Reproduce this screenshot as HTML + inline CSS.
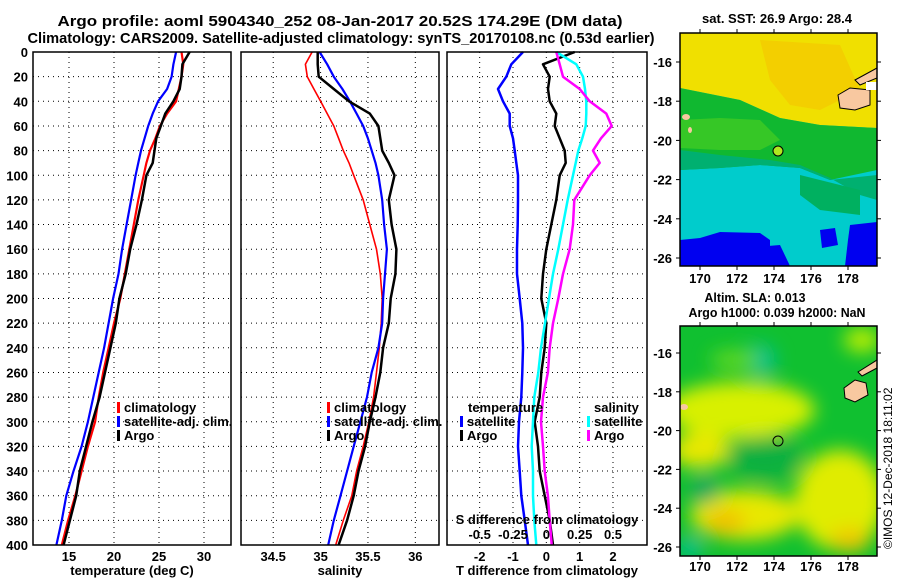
<!DOCTYPE html>
<html><head><meta charset="utf-8">
<style>
html,body{margin:0;padding:0;background:#fff;}
svg{display:block;font-family:"Liberation Sans",sans-serif;font-weight:bold;}
text{font-size:13px;fill:#000;}
</style></head>
<body>
<svg id="chart" width="900" height="580" viewBox="0 0 900 580">
<defs>
<filter id="blur1" x="-20%" y="-20%" width="140%" height="140%"><feGaussianBlur stdDeviation="9"/></filter>
<clipPath id="clipm1"><rect x="680" y="33" width="197" height="233"/></clipPath>
<clipPath id="clipm2"><rect x="680" y="326" width="197" height="230"/></clipPath>
</defs>
<text x="340" y="26" text-anchor="middle" textLength="565" lengthAdjust="spacingAndGlyphs" style="font-size:15px">Argo profile: aoml 5904340_252 08-Jan-2017 20.52S 174.29E (DM data)</text>
<text x="341" y="43" text-anchor="middle" textLength="627" lengthAdjust="spacingAndGlyphs" style="font-size:15px">Climatology: CARS2009. Satellite-adjusted climatology: synTS_20170108.nc (0.53d earlier)</text>
<g id="panels"></g>
<g id="maps">
 <g clip-path="url(#clipm1)">
  <rect x="680" y="33" width="197" height="233" fill="#00cccc"/>
  <polygon points="680,33 877,33 877,128 820,125 780,118 740,100 700,92 680,88" fill="#f0e000"/>
  <polygon points="760,40 840,45 860,90 820,110 790,105 770,80" fill="#f4c800" opacity="0.7"/>
  <polygon points="680,88 700,92 740,100 780,118 820,125 877,128 877,170 830,180 800,168 760,165 720,168 680,170" fill="#10b830"/>
  <polygon points="680,120 720,118 760,120 780,140 760,150 720,150 680,148" fill="#50d020" opacity="0.6"/>
  <polygon points="680,150 720,155 770,160 800,165 830,178 860,195 877,200 877,175 830,180 800,168 760,165 720,168 680,170" fill="#00b070"/>
  <polygon points="800,175 860,190 860,215 820,210 800,195" fill="#00b060"/>
  <polygon points="680,240 700,238 720,232 760,233 770,240 770,266 680,266" fill="#0000f0"/>
  <polygon points="720,250 780,245 790,266 720,266" fill="#0000f0"/>
  <polygon points="850,225 877,222 877,266 845,266 848,240" fill="#0000f0"/>
  <polygon points="820,230 835,228 838,245 822,248" fill="#0000f0"/>
  <polygon points="838,95 850,88 870,90 870,105 855,110 840,108" fill="#f8c8a0" stroke="#000" stroke-width="1"/>
  <polygon points="855,80 877,68 877,78 860,85" fill="#f8c8a0" stroke="#000" stroke-width="1"/>
  <rect x="866" y="82" width="11" height="8" fill="#fff"/>
  <ellipse cx="686" cy="117" rx="4" ry="3" fill="#f8c8a0"/>
  <ellipse cx="690" cy="130" rx="2" ry="3" fill="#f8c8a0"/>
  <circle cx="778" cy="151" r="5" fill="#b0e820" stroke="#000" stroke-width="1"/>
 </g>
 <rect x="680" y="33" width="197" height="233" fill="none" stroke="#000" stroke-width="1.5"/>
 <text x="777" y="23" text-anchor="middle" textLength="150" lengthAdjust="spacingAndGlyphs">sat. SST: 26.9 Argo: 28.4</text>
 <g clip-path="url(#clipm2)">
  <rect x="680" y="326" width="197" height="230" fill="#10c030"/>
  <g filter="url(#blur1)">
   <ellipse cx="740" cy="410" rx="75" ry="28" fill="#d8f000"/>
   <ellipse cx="700" cy="450" rx="30" ry="18" fill="#e8e800"/>
   <ellipse cx="745" cy="515" rx="55" ry="25" fill="#e8e800"/>
   <ellipse cx="725" cy="522" rx="20" ry="12" fill="#f0c000"/>
   <ellipse cx="840" cy="500" rx="45" ry="50" fill="#e0ec00"/>
   <ellipse cx="850" cy="540" rx="20" ry="12" fill="#f0c800"/>
   <ellipse cx="765" cy="458" rx="38" ry="22" fill="#10b040"/>
   <ellipse cx="760" cy="360" rx="16" ry="16" fill="#00c090"/>
   <ellipse cx="705" cy="490" rx="14" ry="14" fill="#00a860"/>
   <ellipse cx="690" cy="548" rx="12" ry="10" fill="#00c0a0"/>
   <ellipse cx="862" cy="340" rx="18" ry="12" fill="#c0f000"/>
   <ellipse cx="735" cy="360" rx="25" ry="10" fill="#60d820"/>
  </g>
  <polygon points="844,388 855,380 866,383 868,395 855,402 845,398" fill="#f8c8a0" stroke="#000" stroke-width="1"/>
  <polygon points="858,372 877,360 877,368 862,376" fill="#f8c8a0" stroke="#000" stroke-width="1"/>
  <ellipse cx="684" cy="407" rx="4" ry="3" fill="#f8c8a0"/>
  <circle cx="778" cy="441" r="5" fill="none" stroke="#000" stroke-width="1"/>
 </g>
 <rect x="680" y="326" width="197" height="230" fill="none" stroke="#000" stroke-width="1.5"/>
 <text x="755" y="302" text-anchor="middle" textLength="101" lengthAdjust="spacingAndGlyphs">Altim. SLA: 0.013</text>
 <text x="777" y="317" text-anchor="middle" textLength="177" lengthAdjust="spacingAndGlyphs">Argo h1000: 0.039 h2000: NaN</text>
 <text transform="translate(892,549) rotate(-90)" style="font-size:12px;font-weight:normal">©IMOS 12-Dec-2018 18:11:02</text>
</g>
</svg>
<script>
// depth levels (dbar)
const depths = [0,10,20,30,40,50,60,70,80,90,100,120,140,160,180,200,220,240,260,280,300,320,340,360,380,400];
// temperature (deg C)
const tArgo = [28.4,27.6,27.5,27.3,26.6,25.7,25.2,24.7,24.5,24.3,23.6,23.1,22.5,21.8,21.3,20.6,20.2,19.6,19.0,18.4,17.6,16.9,16.2,15.8,15.1,14.4];
const tClim = [27.5,27.7,27.5,27.2,26.9,25.9,25.1,24.6,24.0,23.6,23.3,22.7,22.2,21.7,21.2,20.7,20.0,19.4,18.8,18.3,17.9,17.1,16.4,15.7,14.9,14.2];
const tSat  = [26.9,26.6,26.4,25.9,24.9,24.3,23.8,23.4,23.0,22.7,22.4,21.9,21.4,20.9,20.5,19.9,19.4,18.9,18.3,17.7,17.1,16.4,15.5,14.7,14.2,13.6];
// salinity
const sArgo = [34.97,34.97,34.98,35.14,35.30,35.52,35.61,35.63,35.65,35.72,35.78,35.72,35.75,35.80,35.79,35.74,35.72,35.66,35.63,35.58,35.52,35.47,35.40,35.35,35.28,35.19];
const sClim = [34.91,34.84,34.86,34.93,35.00,35.07,35.14,35.19,35.24,35.30,35.35,35.45,35.52,35.59,35.63,35.65,35.64,35.62,35.59,35.56,35.51,35.45,35.38,35.33,35.24,35.16];
const sSat  = [34.99,35.07,35.14,35.23,35.31,35.38,35.45,35.50,35.54,35.58,35.61,35.65,35.67,35.70,35.68,35.66,35.65,35.61,35.54,35.49,35.42,35.35,35.28,35.21,35.14,35.08];
// differences from climatology
const dTSat  = [-0.7,-1.05,-1.2,-1.45,-1.3,-1.1,-1.1,-1.0,-0.95,-0.9,-0.85,-0.85,-0.86,-0.88,-0.88,-0.8,-0.72,-0.7,-0.72,-0.75,-0.82,-0.85,-0.8,-0.75,-0.65,-0.55];
const dTArgo = [0.85,-0.1,0.1,0.05,0.1,0.3,0.25,0.4,0.55,0.58,0.4,0.3,0.15,0.0,-0.1,-0.15,0.0,-0.05,-0.15,-0.2,-0.35,-0.25,-0.2,-0.05,0.1,0.2];
const dSSat  = [0.075,0.225,0.275,0.29,0.3,0.3,0.295,0.27,0.24,0.22,0.2,0.16,0.125,0.09,0.05,0.02,-0.01,-0.04,-0.06,-0.09,-0.1,-0.11,-0.1,-0.1,-0.09,-0.075];
const dSArgo = [0.075,0.1,0.125,0.25,0.325,0.45,0.49,0.41,0.35,0.4,0.325,0.21,0.2,0.175,0.125,0.09,0.05,0.025,0.012,-0.025,-0.04,-0.025,-0.012,0.012,0.025,0.04];
// tick labels
const depthTicks = [0,20,40,60,80,100,120,140,160,180,200,220,240,260,280,300,320,340,360,380,400];
const tTicks = [15,20,25,30];
const sTicks = [34.5,35,35.5,36];
const dTTicks = [-2,-1,0,1,2];
const dSTicks = [-0.5,-0.25,0,0.25,0.5];
const lonTicks = [170,172,174,176,178];
const latTicks = [-16,-18,-20,-22,-24,-26];

const NS='http://www.w3.org/2000/svg';
const root=document.getElementById('panels');
const TOP=52,BOT=545;
const y=d=>TOP+(d/400)*(BOT-TOP);
function mk(tag,attrs,parent){const e=document.createElementNS(NS,tag);for(const k in attrs)e.setAttribute(k,attrs[k]);(parent||root).appendChild(e);return e;}
function txt(x,yy,s,anchor,parent,size){const t=mk('text',{x:x,y:yy,'text-anchor':anchor||'middle'},parent);if(size)t.style.fontSize=size;t.textContent=s;return t;}

const panels=[
 {name:'temperature-panel',x0:33,x1:231,min:11.0,max:33.0,ticks:tTicks,label:'temperature (deg C)'},
 {name:'salinity-panel',x0:241,x1:439,min:34.16,max:36.25,ticks:sTicks,label:'salinity'},
 {name:'difference-panel',x0:447,x1:647,min:-2.98,max:3.02,ticks:dTTicks,label:'T difference from climatology'}
];
panels.forEach((p,i)=>{
 const g=mk('g',{});
 
 
 p.g=g;
 p.x=v=>p.x0+(v-p.min)/(p.max-p.min)*(p.x1-p.x0);
 depthTicks.forEach(d=>{
  if(d>0&&d<400){const l=mk('line',{x1:p.x0,x2:p.x1,y1:y(d),y2:y(d),stroke:'#000','stroke-width':1,'stroke-dasharray':'1,4'},g);
  }
 });
 p.ticks.forEach(v=>{
  const l=mk('line',{x1:p.x(v),x2:p.x(v),y1:TOP,y2:BOT,stroke:'#000','stroke-width':1,'stroke-dasharray':'1,4'},g);
  
  const t=txt(p.x(v),561,String(v),'middle',g);
  
 });
 const at=txt((p.x0+p.x1)/2,575,p.label,'middle',g);
 
});
depthTicks.forEach(d=>{
 const t=txt(28,y(d)+5,String(d),'end');
 
});
function line(p,vals,color,w,name,xf){
 const f=xf||p.x;
 const pts=vals.map((v,i)=>f(v).toFixed(1)+','+y(depths[i]).toFixed(1)).join(' ');
 const pl=mk('polyline',{points:pts,fill:'none',stroke:color,'stroke-width':w,'stroke-linejoin':'round'},p.g);
 
 
}
const P1=panels[0],P2=panels[1],P3=panels[2];
line(P1,tClim,'#ff0000',2.2,'temperature-climatology-line');
line(P1,tSat,'#0000ff',2.2,'temperature-satellite-line');
line(P1,tArgo,'#000',2.5,'temperature-argo-line');
line(P2,sClim,'#ff0000',1.6,'salinity-climatology-line');
line(P2,sSat,'#0000ff',2.2,'salinity-satellite-line');
line(P2,sArgo,'#000',2.5,'salinity-argo-line');
const sx=v=>P3.x(v*4);
line(P3,dTSat,'#0000ff',2.5,'t-diff-satellite-line');
line(P3,dTArgo,'#000',2.5,'t-diff-argo-line');
line(P3,dSSat,'#00ffff',2.5,'s-diff-satellite-line',sx);
line(P3,dSArgo,'#ff00ff',2.5,'s-diff-argo-line',sx);
const st=txt(547,524,'S difference from climatology','middle',P3.g);

dSTicks.forEach(v=>{const t=txt(sx(v),539,String(v),'middle',P3.g);
 });
function leg(g,x,yy,color,label,name){
 const lg=mk('g',{},g);
 
 
 mk('rect',{x:x,y:yy-10,width:3,height:11,fill:color},lg);
 txt(x+7,yy,label,'start',lg);
}
[[P1,117],[P2,327]].forEach(([p,x])=>{
 leg(p.g,x,412,'#ff0000','climatology','legend-climatology');
 leg(p.g,x,426,'#0000ff','satellite-adj. clim.','legend-satellite-adj');
 leg(p.g,x,440,'#000','Argo','legend-argo');
});
const lt=txt(468,412,'temperature','start',P3.g);
leg(P3.g,460,426,'#0000ff','satellite','legend-t-satellite');
leg(P3.g,460,440,'#000','Argo','legend-t-argo');
const ls=txt(594,412,'salinity','start',P3.g);
leg(P3.g,587,426,'#00ffff','satellite','legend-s-satellite');
leg(P3.g,587,440,'#ff00ff','Argo','legend-s-argo');
panels.forEach(p=>{const r=mk('rect',{x:p.x0,y:TOP,width:p.x1-p.x0,height:BOT-TOP,fill:'none',stroke:'#000','stroke-width':1.5},p.g);
 });
const maps=document.getElementById('maps');
function mapAxes(x0,x1,y0,y1,latTop,latStep,lonY){
 const lonX=l=>700+(l-170)*18.5;
 lonTicks.forEach(l=>{const t=txt(lonX(l),lonY,String(l),'middle',maps);
  
  mk('line',{x1:lonX(l),x2:lonX(l),y1:y0-4,y2:y0,stroke:'#000'},maps);
  mk('line',{x1:lonX(l),x2:lonX(l),y1:y1,y2:y1+4,stroke:'#000'},maps);});
 latTicks.forEach((la,i)=>{const yy=latTop+i*latStep;
  const t=txt(672,yy+5,String(la),'end',maps);
  
  mk('line',{x1:x0-4,x2:x0,y1:yy,y2:yy,stroke:'#000'},maps);
  mk('line',{x1:x1,x2:x1+4,y1:yy,y2:yy,stroke:'#000'},maps);});
}
mapAxes(680,877,33,266,62,39.2,283);
mapAxes(680,877,326,556,353,38.8,571);
</script>
</body></html>
